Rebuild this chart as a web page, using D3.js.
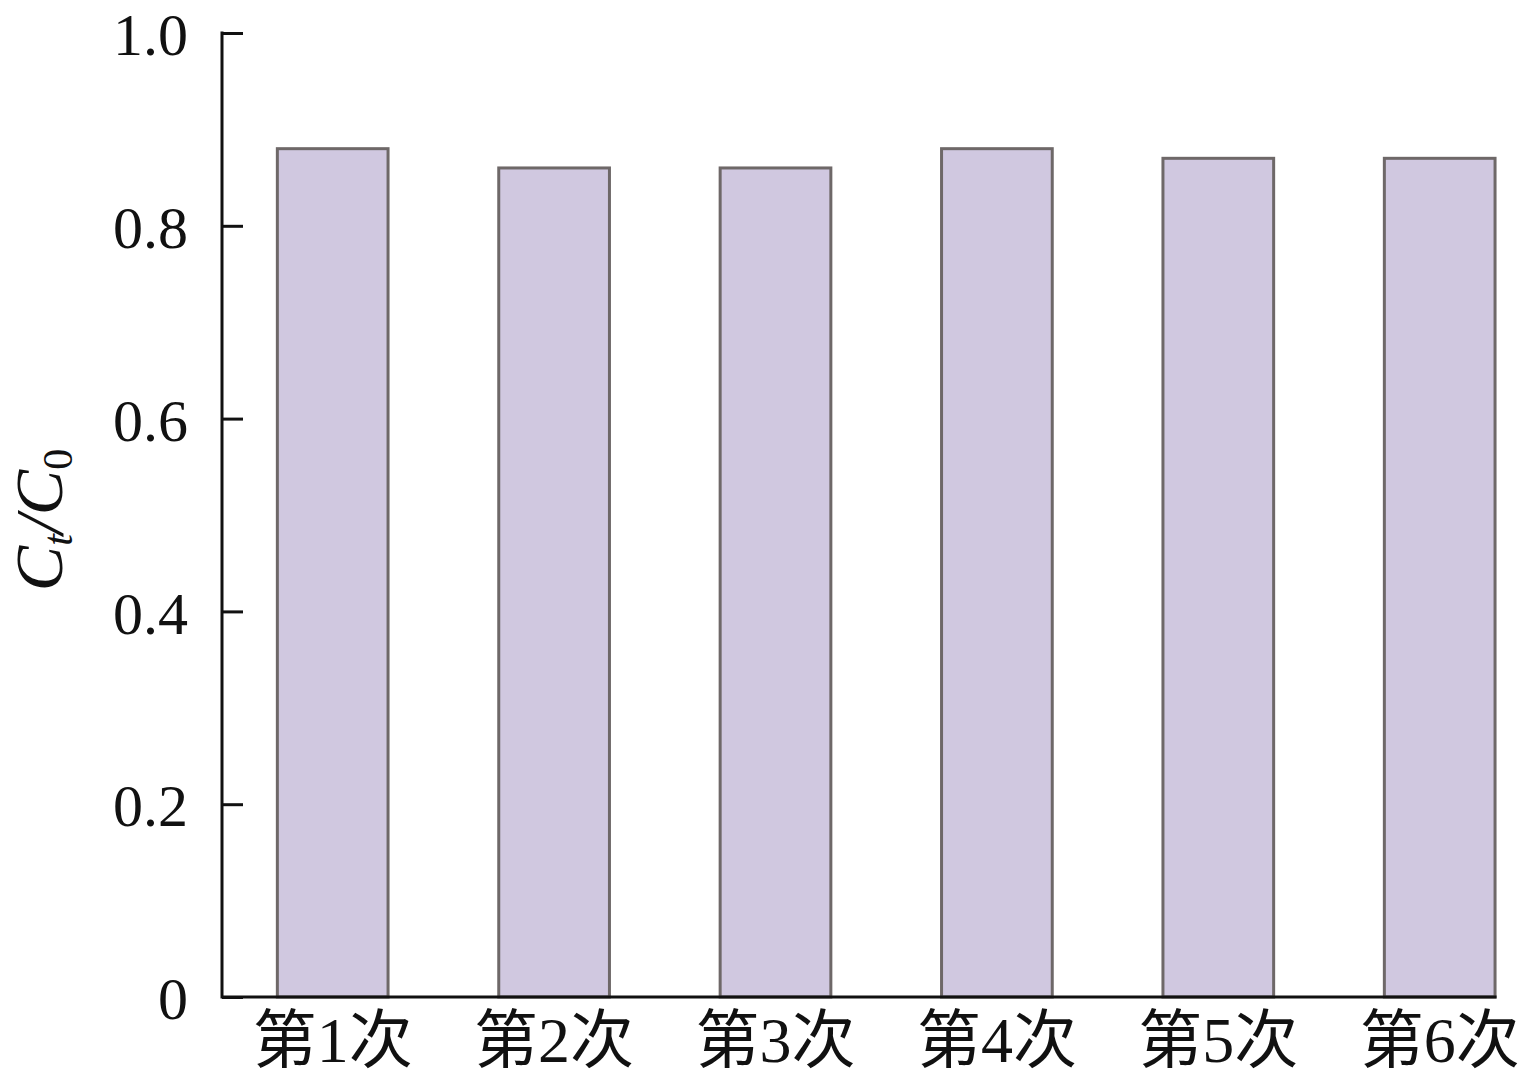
<!DOCTYPE html>
<meta charset="utf-8">
<head>
<script src="https://d3js.org/d3.v7.min.js"></script>
<style>
body { margin: 0; background: #fff; }
.tick text { font-family: "Times New Roman", "Liberation Serif", Times, serif; }
</style>
</head>
<body>
<script>
// data
var categories = ["第1次", "第2次", "第3次", "第4次", "第5次", "第6次"];
var values = [0.88, 0.86, 0.86, 0.88, 0.87, 0.87];
var yTicks = [0, 0.2, 0.4, 0.6, 0.8, 1.0];

var W = 1529, H = 1082;
var x0 = 222, y0 = 997, yTop = 33;
var step = 221.4;

var svg = d3.select("body").append("svg")
    .attr("width", W)
    .attr("height", H);

var x = d3.scaleBand()
    .domain(categories)
    .range([x0, x0 + step * categories.length])
    .paddingInner(0.5)
    .paddingOuter(0.25);

var y = d3.scaleLinear().domain([0, 1]).range([y0, yTop]);

// bars
svg.selectAll(".bar")
    .data(values)
    .enter().append("rect")
    .attr("class", "bar")
    .attr("x", function(d, i) { return x(categories[i]); })
    .attr("width", x.bandwidth())
    .attr("y", function(d) { return y(d); })
    .attr("height", function(d) { return y0 - y(d); })
    .attr("fill", "#d0c8e0")
    .attr("stroke", "#6e6868")
    .attr("stroke-width", 3);

// y axis, ticks pointing inward
var yAxis = svg.append("g")
    .attr("transform", "translate(" + x0 + ",0)")
    .call(d3.axisRight(y)
        .tickValues(yTicks)
        .tickSize(21)
        .tickFormat(function(d) { return d === 0 ? "0" : d3.format(".1f")(d); }));
yAxis.attr("font-family", null);
yAxis.select(".domain").remove();
yAxis.selectAll(".tick line").attr("stroke", "#111").attr("stroke-width", 3);
yAxis.selectAll(".tick text")
    .attr("x", -34)
    .attr("text-anchor", "end")
    .attr("dy", "0.36em")
    .attr("fill", "#111")
    .style("font-size", "60px");

// axis lines
svg.append("line")
    .attr("x1", x0).attr("x2", x0)
    .attr("y1", yTop - 1.5).attr("y2", y0 + 1.5)
    .attr("stroke", "#111").attr("stroke-width", 3);
var lastX = x(categories[categories.length - 1]) + x.bandwidth();
svg.append("line")
    .attr("x1", x0).attr("x2", lastX + 1.5)
    .attr("y1", y0).attr("y2", y0)
    .attr("stroke", "#111").attr("stroke-width", 3);

// x labels
svg.selectAll(".xlab")
    .data(categories)
    .enter().append("text")
    .attr("class", "xlab")
    .attr("x", function(d) { return x(d) + x.bandwidth() / 2; })
    .attr("y", 1062)
    .attr("text-anchor", "middle")
    .attr("fill", "#111")
    .style("font-family", "'Times New Roman', 'Liberation Serif', 'Noto Sans CJK SC', serif")
    .style("font-size", "64px")
    .text(function(d) { return d; });

// y title  Ct/C0
var yt = svg.append("text")
    .attr("transform", "translate(62,520) rotate(-90)")
    .attr("text-anchor", "middle")
    .attr("fill", "#111")
    .style("font-family", "'Times New Roman', 'Liberation Serif', serif")
    .style("font-style", "italic")
    .style("font-size", "68px");
yt.append("tspan").text("C");
yt.append("tspan").attr("dy", 10).style("font-size", "42px").text("t");
yt.append("tspan").attr("dy", -10).text("/C");
yt.append("tspan").attr("dy", 10).style("font-size", "42px").style("font-style", "normal").text("0");
</script>
</body>
